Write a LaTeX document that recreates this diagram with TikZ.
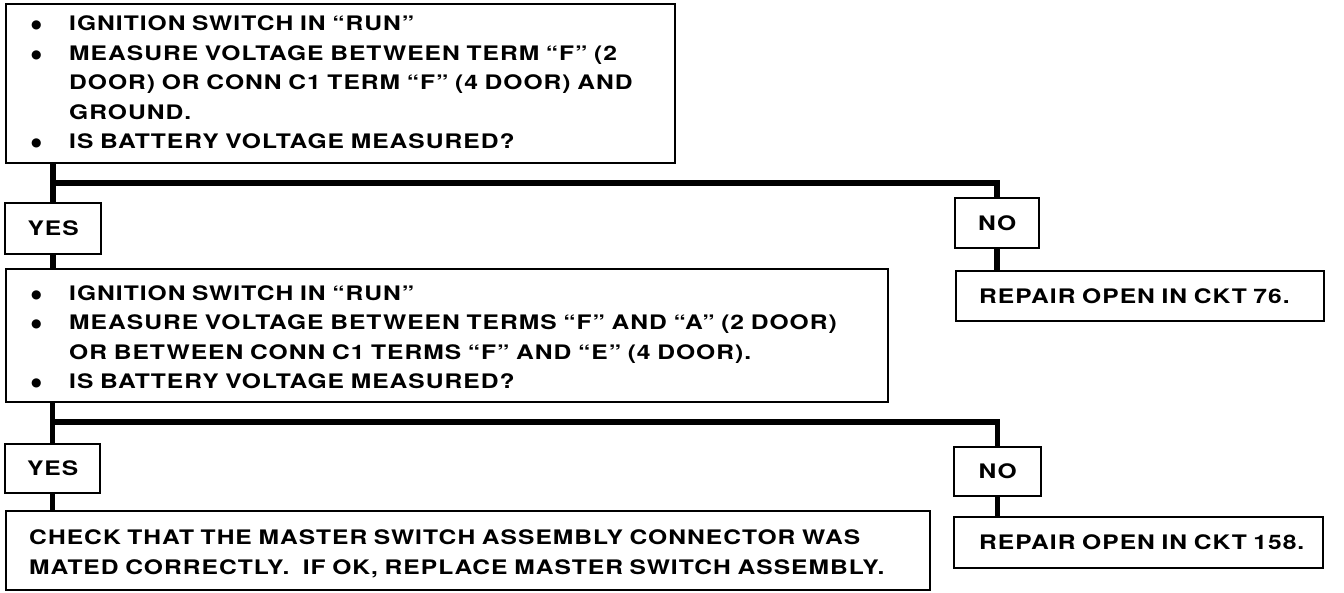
\documentclass[tikz,border=0pt]{standalone}
\usepackage{fontspec}
\setmainfont{TeX Gyre Heros}[FakeStretch=1.23,LetterSpace=5]
\newfontfamily\dotfont{DejaVu Sans}
\newcommand{\bigdot}{\raisebox{2pt}{\dotfont\fontsize{12}{12}\selectfont ●}}
\begin{document}
\begin{tikzpicture}[x=1pt,y=-1pt,
  txt/.style={font=\fontsize{20}{29.5}\selectfont\bfseries},
  box/.style={txt, draw, line width=2.4pt, rectangle, anchor=north west, inner ysep=0pt, align=left},
  tag/.style={txt, draw, line width=2.4pt, rectangle, anchor=north west, inner sep=0pt},
  link/.style={line width=5.5pt, line join=miter}
]
\useasboundingbox (0,0) rectangle (1344,592);

% question boxes
\node[box, inner xsep=25pt, text width=619pt, minimum height=159pt] (q1) at (5,3)
 {\begin{tabular}{@{}p{38pt}@{}l@{}}
  \bigdot & IGNITION SWITCH IN “RUN”\\
  \bigdot & MEASURE VOLTAGE BETWEEN TERM “F” (2\\
          & DOOR) OR CONN C1 TERM “F” (4 DOOR) AND\\
          & GROUND.\\
  \bigdot & IS BATTERY VOLTAGE MEASURED?
  \end{tabular}};

\node[box, inner xsep=25pt, text width=832pt, minimum height=133pt] (q2) at (5,268)
 {\begin{tabular}{@{}p{38pt}@{}l@{}}
  \rule{0pt}{26.65pt}\bigdot & IGNITION SWITCH IN “RUN”\\
  \bigdot & MEASURE VOLTAGE BETWEEN TERMS “F” AND “A” (2 DOOR)\\
          & OR BETWEEN CONN C1 TERMS “F” AND “E” (4 DOOR).\\
  \bigdot & IS BATTERY VOLTAGE MEASURED?
  \end{tabular}};

\node[box, inner xsep=23pt, text width=878pt, minimum height=79pt] (a3) at (5,510)
 {\begin{tabular}{@{}l@{}}
  \rule{0pt}{26.65pt}CHECK THAT THE MASTER SWITCH ASSEMBLY CONNECTOR WAS\\
  MATED CORRECTLY.\ \ IF OK, REPLACE MASTER SWITCH ASSEMBLY.
  \end{tabular}};

\node[box, inner xsep=23pt, text width=322pt, minimum height=50pt] (r1) at (955,270)
 {\mbox{REPAIR OPEN IN CKT 76.}};
\node[box, inner xsep=25pt, text width=319pt, minimum height=51pt] (r2) at (953,516)
 {\mbox{REPAIR OPEN IN CKT 158.}};

% answer tags
\node[tag, minimum width=96pt, minimum height=51pt] (y1) at (4,202) {YES};
\node[tag, minimum width=84pt, minimum height=50pt] (n1) at (954,197) {NO};
\node[tag, minimum width=95pt, minimum height=49pt] (y2) at (4,443) {YES};
\node[tag, minimum width=87pt, minimum height=49pt] (n2) at (953,446) {NO};

% connectors
\coordinate (b1) at (y1.north |- 0,183);
\coordinate (b2) at (y2.north |- 0,422);
\draw[link] (q1.south -| y1.north) -- (y1.north);
\draw[link] (b1) -| (n1.north);
\draw[link] (y1.south) -- (y1.south |- q2.north);
\draw[link] (n1.south) -- (n1.south |- r1.north);

\draw[link] (q2.south -| y2.north) -- (y2.north);
\draw[link] (b2) -| (n2.north);
\draw[link] (y2.south) -- (y2.south |- a3.north);
\draw[link] (n2.south) -- (n2.south |- r2.north);
\end{tikzpicture}
\end{document}
